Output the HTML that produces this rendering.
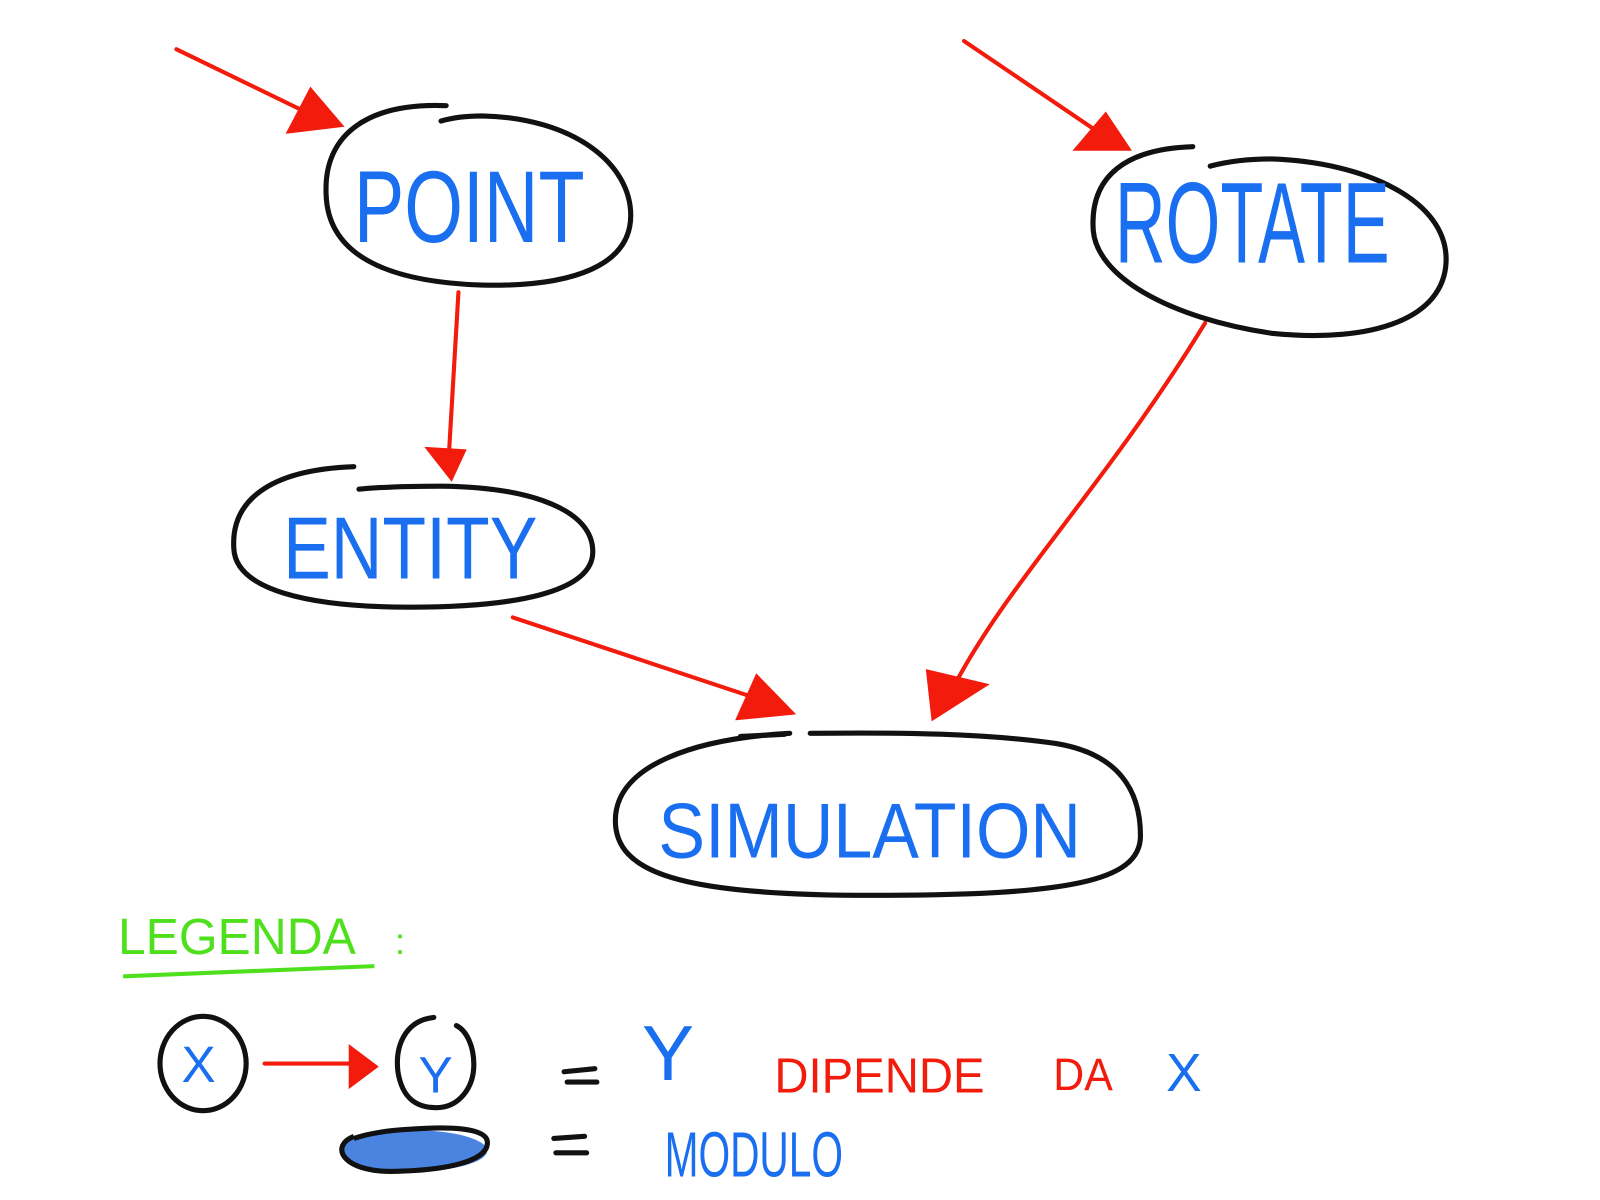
<!DOCTYPE html>
<html><head><meta charset="utf-8"><style>
html,body{margin:0;padding:0;background:#fff;width:1600px;height:1200px;overflow:hidden}
svg{display:block}
text{font-family:"Liberation Sans",sans-serif}
</style></head><body>
<svg width="1600" height="1200" viewBox="0 0 1600 1200" xmlns="http://www.w3.org/2000/svg">
<g transform="scale(1.0256)">
<g fill="none" stroke="#111" stroke-width="5" stroke-linecap="round">
<path d="M435 103 C360 100 315 130 318 190 C320 250 380 275 470 278 C560 280 615 258 615 210 C615 160 560 115 470 113 C455 113 440 115 430 118"/>
<path d="M1163 143 C1100 145 1062 170 1066 225 C1070 270 1140 310 1240 325 C1340 335 1408 310 1410 255 C1412 195 1330 158 1240 155 C1215 155 1195 158 1180 162"/>
<path d="M345 455 C260 458 225 490 228 535 C230 575 300 592 400 592 C500 592 578 578 578 538 C578 498 520 475 430 474 C400 474 370 475 350 477"/>
<path d="M770 715 C680 720 600 745 600 800 C600 850 660 873 850 873 C1040 873 1112 860 1112 815 C1112 770 1090 735 1030 725 C960 715 880 714 790 715"/>
<path d="M722 718 L765 716"/>
<ellipse cx="198" cy="1037" rx="42" ry="46"/>
<path d="M423 992 C395 995 385 1020 388 1045 C392 1070 405 1080 425 1080 C448 1080 462 1060 462 1038 C462 1020 455 1005 445 1000"/>
<path d="M550 1045 L580 1042 M553 1055 L582 1055 M540 1110 L570 1108 M542 1124 L572 1124"/>
</g>
<ellipse cx="403" cy="1122" rx="72" ry="20" fill="#4a84e0"/>
<path d="M345 1108 C320 1118 335 1145 390 1142 C450 1140 478 1128 475 1112 C472 1100 440 1098 400 1101 C380 1102 360 1105 345 1110" fill="none" stroke="#111" stroke-width="5"/>
<g stroke="#f21b0c" stroke-width="4" fill="#f21b0c" stroke-linecap="round">
<path d="M172 48 L310 115" fill="none"/><polygon points="282,128 332,122 303,88"/>
<path d="M940 40 L1080 135" fill="none"/><polygon points="1050,145 1100,145 1078,112"/>
<path d="M447 285 L437 455" fill="none"/><polygon points="418,438 452,440 440,466"/>
<path d="M500 602 L750 685" fill="none"/><polygon points="720,700 772,695 738,660"/>
<path d="M1175 315 C1080 470 990 560 935 660" fill="none"/><polygon points="905,655 960,668 910,700"/>
<path d="M258 1037 L345 1037" fill="none"/><polygon points="342,1022 366,1040 342,1058"/>
</g>
<g fill="#1a6ef0">
<text x="345" y="236" font-size="100" textLength="225" lengthAdjust="spacingAndGlyphs">POINT</text>
<text x="1087" y="256" font-size="112" textLength="268" lengthAdjust="spacingAndGlyphs">ROTATE</text>
<text x="276" y="564" font-size="86" textLength="248" lengthAdjust="spacingAndGlyphs">ENTITY</text>
<text x="642" y="836" font-size="76" textLength="412" lengthAdjust="spacingAndGlyphs">SIMULATION</text>
<text x="177" y="1055" font-size="50">X</text>
<text x="408" y="1065" font-size="50">Y</text>
<text x="626" y="1053" font-size="76">Y</text>
<text x="1137" y="1064" font-size="52">X</text>
<text x="648" y="1147" font-size="62" textLength="174" lengthAdjust="spacingAndGlyphs">MODULO</text>
</g>
<g fill="#f21b0c">
<text x="755" y="1065" font-size="48" textLength="205" lengthAdjust="spacingAndGlyphs">DIPENDE</text>
<text x="1027" y="1063" font-size="44" textLength="58" lengthAdjust="spacingAndGlyphs">DA</text>
</g>
<text x="115" y="930" font-size="50" fill="#4ee01c" textLength="232" lengthAdjust="spacingAndGlyphs">LEGENDA</text>
<text x="385" y="930" font-size="36" fill="#4ee01c">:</text>
<path d="M120 952 L365 942" stroke="#4ee01c" stroke-width="4" fill="none"/>
</g>
</svg>
</body></html>
